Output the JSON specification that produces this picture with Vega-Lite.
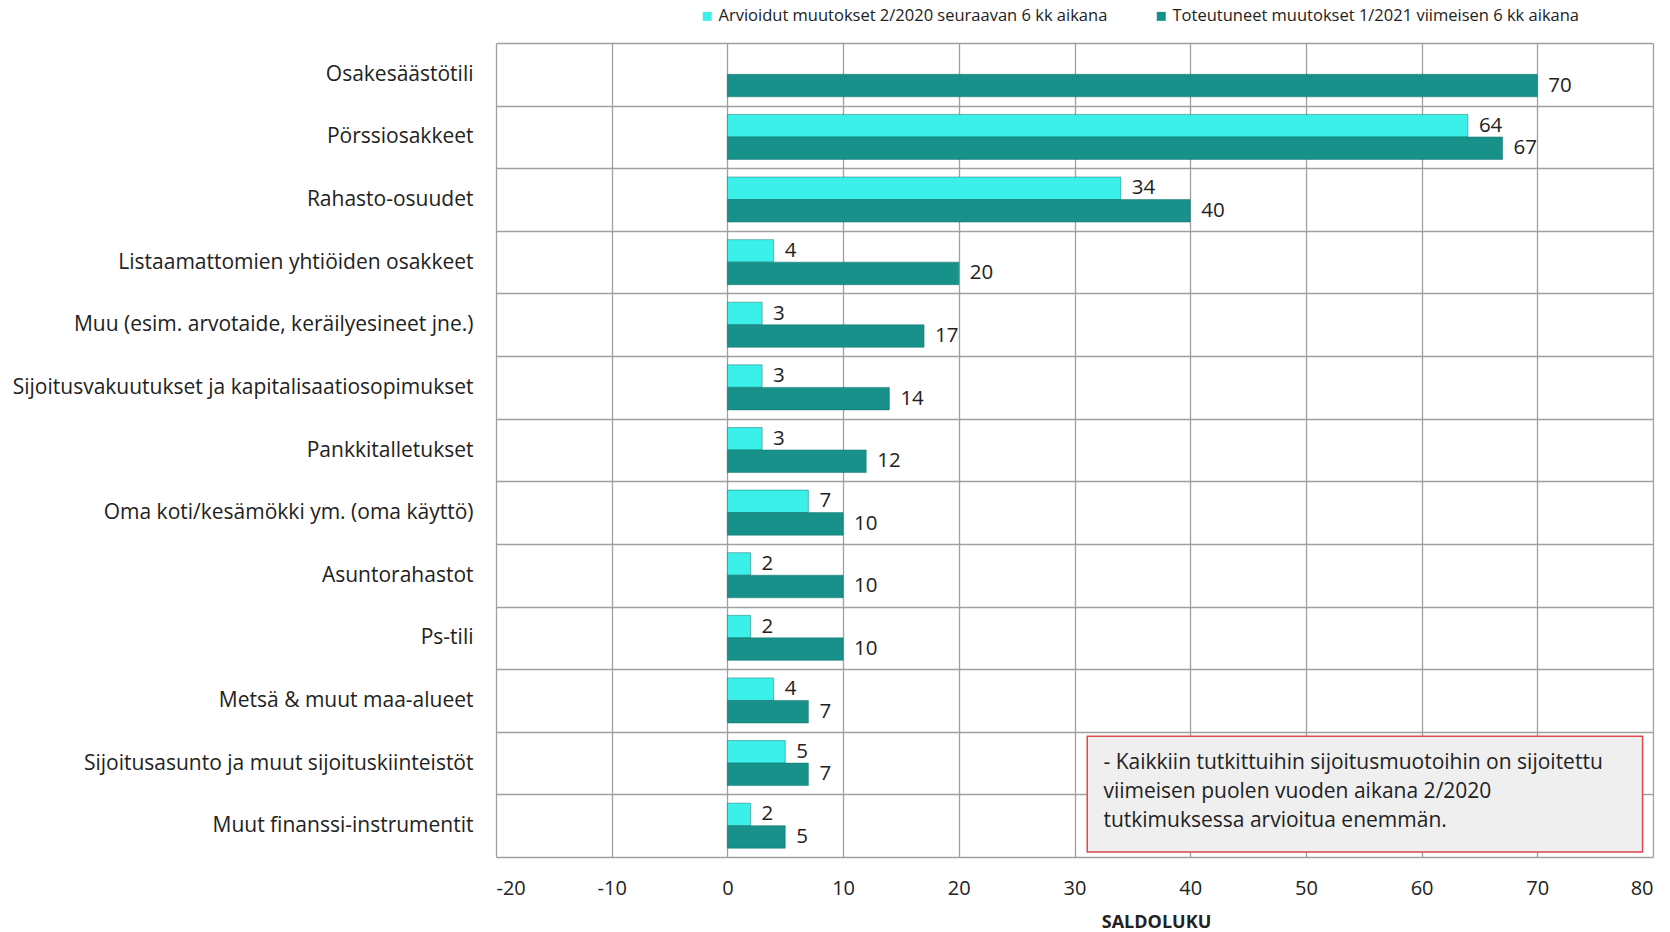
{
  "$schema": "https://vega.github.io/schema/vega-lite/v6.json",
  "width": 1157,
  "height": 814,
  "autosize": {"type": "none"},
  "padding": {"left": 496, "top": 43, "right": 17, "bottom": 75},
  "background": "white",
  "config": {"font": "Open Sans", "view": {"stroke": null}},
  "datasets": {
    "bars": [
      {"kohde": "Osakesäästötili", "sarja": "Toteutuneet muutokset 1/2021 viimeisen 6 kk aikana", "saldo": 70},
      {"kohde": "Pörssiosakkeet", "sarja": "Arvioidut muutokset 2/2020 seuraavan 6 kk aikana", "saldo": 64},
      {"kohde": "Pörssiosakkeet", "sarja": "Toteutuneet muutokset 1/2021 viimeisen 6 kk aikana", "saldo": 67},
      {"kohde": "Rahasto-osuudet ", "sarja": "Arvioidut muutokset 2/2020 seuraavan 6 kk aikana", "saldo": 34},
      {"kohde": "Rahasto-osuudet ", "sarja": "Toteutuneet muutokset 1/2021 viimeisen 6 kk aikana", "saldo": 40},
      {"kohde": "Listaamattomien yhtiöiden osakkeet", "sarja": "Arvioidut muutokset 2/2020 seuraavan 6 kk aikana", "saldo": 4},
      {"kohde": "Listaamattomien yhtiöiden osakkeet", "sarja": "Toteutuneet muutokset 1/2021 viimeisen 6 kk aikana", "saldo": 20},
      {"kohde": "Muu (esim. arvotaide, keräilyesineet jne.)", "sarja": "Arvioidut muutokset 2/2020 seuraavan 6 kk aikana", "saldo": 3},
      {"kohde": "Muu (esim. arvotaide, keräilyesineet jne.)", "sarja": "Toteutuneet muutokset 1/2021 viimeisen 6 kk aikana", "saldo": 17},
      {"kohde": "Sijoitusvakuutukset ja kapitalisaatiosopimukset", "sarja": "Arvioidut muutokset 2/2020 seuraavan 6 kk aikana", "saldo": 3},
      {"kohde": "Sijoitusvakuutukset ja kapitalisaatiosopimukset", "sarja": "Toteutuneet muutokset 1/2021 viimeisen 6 kk aikana", "saldo": 14},
      {"kohde": "Pankkitalletukset", "sarja": "Arvioidut muutokset 2/2020 seuraavan 6 kk aikana", "saldo": 3},
      {"kohde": "Pankkitalletukset", "sarja": "Toteutuneet muutokset 1/2021 viimeisen 6 kk aikana", "saldo": 12},
      {"kohde": "Oma koti/kesämökki ym. (oma käyttö)", "sarja": "Arvioidut muutokset 2/2020 seuraavan 6 kk aikana", "saldo": 7},
      {"kohde": "Oma koti/kesämökki ym. (oma käyttö)", "sarja": "Toteutuneet muutokset 1/2021 viimeisen 6 kk aikana", "saldo": 10},
      {"kohde": "Asuntorahastot", "sarja": "Arvioidut muutokset 2/2020 seuraavan 6 kk aikana", "saldo": 2},
      {"kohde": "Asuntorahastot", "sarja": "Toteutuneet muutokset 1/2021 viimeisen 6 kk aikana", "saldo": 10},
      {"kohde": "Ps-tili", "sarja": "Arvioidut muutokset 2/2020 seuraavan 6 kk aikana", "saldo": 2},
      {"kohde": "Ps-tili", "sarja": "Toteutuneet muutokset 1/2021 viimeisen 6 kk aikana", "saldo": 10},
      {"kohde": "Metsä & muut maa-alueet", "sarja": "Arvioidut muutokset 2/2020 seuraavan 6 kk aikana", "saldo": 4},
      {"kohde": "Metsä & muut maa-alueet", "sarja": "Toteutuneet muutokset 1/2021 viimeisen 6 kk aikana", "saldo": 7},
      {"kohde": "Sijoitusasunto ja muut sijoituskiinteistöt", "sarja": "Arvioidut muutokset 2/2020 seuraavan 6 kk aikana", "saldo": 5},
      {"kohde": "Sijoitusasunto ja muut sijoituskiinteistöt", "sarja": "Toteutuneet muutokset 1/2021 viimeisen 6 kk aikana", "saldo": 7},
      {"kohde": "Muut finanssi-instrumentit", "sarja": "Arvioidut muutokset 2/2020 seuraavan 6 kk aikana", "saldo": 2},
      {"kohde": "Muut finanssi-instrumentit", "sarja": "Toteutuneet muutokset 1/2021 viimeisen 6 kk aikana", "saldo": 5}
    ]
  },
  "layer": [
    {
      "data": {"name": "bars"},
      "encoding": {
        "y": {
          "field": "kohde",
          "type": "nominal",
          "sort": null,
          "scale": {"paddingInner": 0, "paddingOuter": 0},
          "axis": {
            "title": null,
            "labelFont": "Open Sans",
            "labelFontSize": 21,
            "labelColor": "#222222",
            "labelLimit": 600,
            "labelPadding": 23,
            "ticks": false,
            "domain": false,
            "grid": true,
            "tickBand": "extent",
            "gridColor": "#A0A0A0",
            "gridWidth": 1.3
          }
        },
        "yOffset": {
          "field": "sarja",
          "type": "nominal",
          "sort": ["Arvioidut muutokset 2/2020 seuraavan 6 kk aikana", "Toteutuneet muutokset 1/2021 viimeisen 6 kk aikana"],
          "scale": {"paddingInner": 0, "paddingOuter": 0.39}
        },
        "x": {
          "field": "saldo",
          "type": "quantitative",
          "scale": {"domain": [-20, 80], "nice": false},
          "axis": {
            "values": [-20, -10, 0, 10, 20, 30, 40, 50, 60, 70, 80],
            "labelExpr": "'' + datum.value",
            "title": "SALDOLUKU",
            "titleFont": "Open Sans",
            "titleFontSize": 18,
            "titleFontWeight": "bold",
            "titleColor": "#222222",
            "titleX": 660,
            "titleY": 65,
            "titleBaseline": "middle",
            "titleAlign": "center",
            "labelFont": "Open Sans",
            "labelFontSize": 20,
            "labelColor": "#222222",
            "labelPadding": 21,
            "ticks": false,
            "domain": false,
            "grid": true,
            "gridColor": "#A0A0A0",
            "gridWidth": 1.3
          }
        }
      },
      "layer": [
        {
          "mark": {"type": "bar", "stroke": "#0E6F6A", "strokeWidth": 0.8, "strokeOpacity": 0.6},
          "encoding": {
            "color": {
              "field": "sarja",
              "type": "nominal",
              "scale": {
                "domain": ["Arvioidut muutokset 2/2020 seuraavan 6 kk aikana", "Toteutuneet muutokset 1/2021 viimeisen 6 kk aikana"],
                "range": ["#3CF0EA", "#17918A"]
              },
              "legend": {
                "orient": "none",
                "legendX": 203,
                "legendY": -35,
                "direction": "horizontal",
                "title": null,
                "symbolType": "square",
                "symbolSize": 81,
                "symbolStrokeWidth": 0,
                "labelFont": "Open Sans",
                "labelFontSize": 16.5,
                "labelColor": "#222222",
                "labelLimit": 600,
                "labelOffset": 3,
                "columnPadding": 45
              }
            }
          }
        },
        {
          "mark": {"type": "text", "align": "left", "baseline": "middle", "dx": 11, "fontSize": 20.5, "font": "Open Sans", "color": "#222222"},
          "encoding": {"text": {"field": "saldo", "type": "quantitative"}}
        }
      ]
    },
    {
      "data": {"values": [{}]},
      "layer": [
        {
          "mark": {"type": "rect", "fill": "#EFEFEF", "stroke": "#E0474C", "strokeWidth": 1.5},
          "encoding": {
            "x": {"datum": 31.1, "type": "quantitative"},
            "x2": {"datum": 79.1},
            "y": {"datum": 0.08, "type": "quantitative", "scale": {"domain": [0, 13], "nice": false}, "axis": null},
            "y2": {"datum": 1.93}
          }
        },
        {
          "mark": {
            "type": "text",
            "align": "left",
            "baseline": "top",
            "font": "Open Sans",
            "fontSize": 21,
            "lineHeight": 29.3,
            "color": "#222222",
            "text": ["- Kaikkiin tutkittuihin sijoitusmuotoihin on sijoitettu", "\u00a0\u00a0viimeisen puolen vuoden aikana 2/2020", "\u00a0\u00a0tutkimuksessa arvioitua enemmän."]
          },
          "encoding": {
            "x": {"datum": 32.5, "type": "quantitative"},
            "y": {"datum": 1.68, "type": "quantitative", "scale": {"domain": [0, 13], "nice": false}, "axis": null}
          }
        }
      ]
    }
  ],
  "resolve": {"scale": {"y": "independent"}}
}
